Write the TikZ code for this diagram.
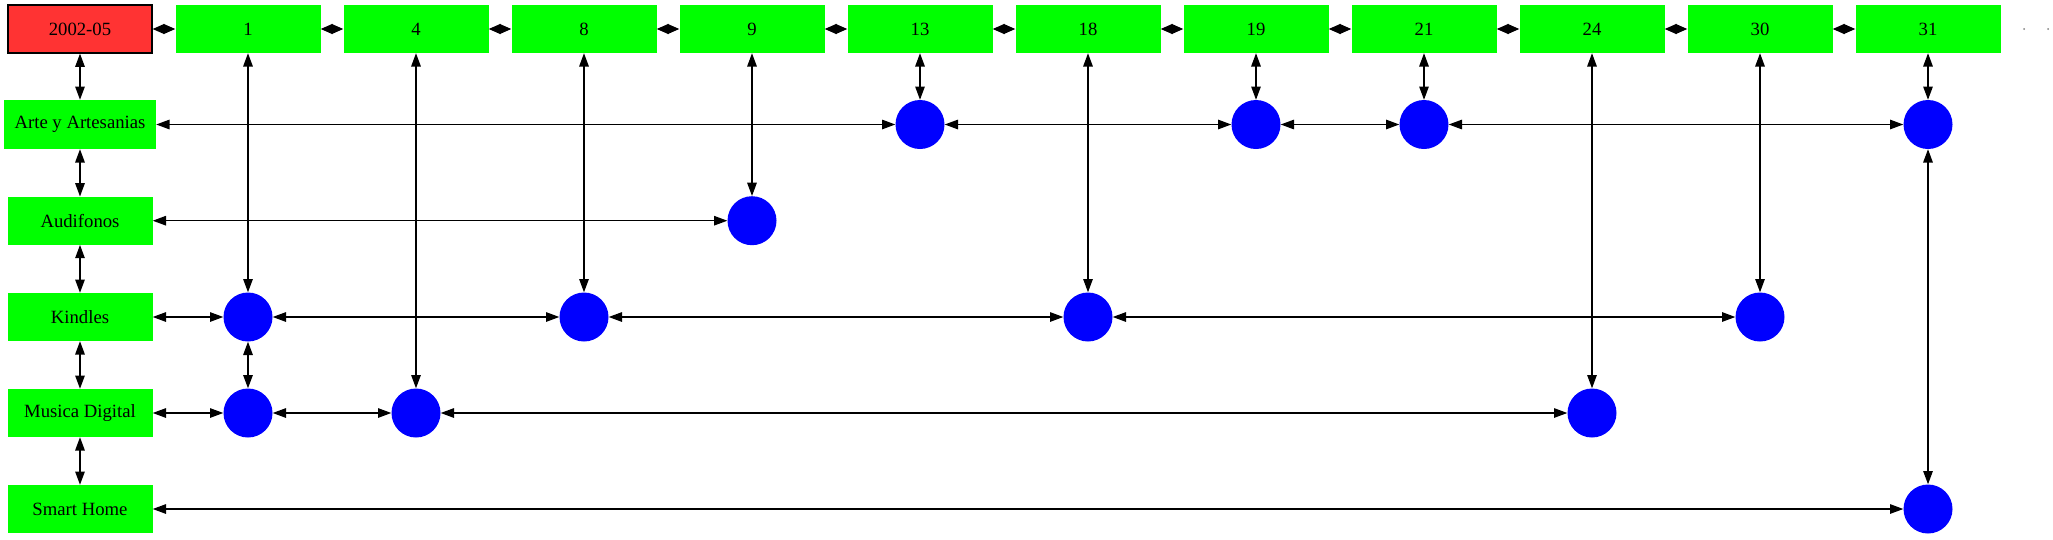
\documentclass[tikz,border=0pt]{standalone}
\usepackage{fontspec}
\setmainfont{Liberation Serif}
\usetikzlibrary{arrows.meta}
\definecolor{boxgreen}{HTML}{00FF00}
\definecolor{hdrred}{HTML}{FF3333}
\begin{document}
\begin{tikzpicture}[x=1pt,y=-1pt,
  box/.style={rectangle, fill=boxgreen, draw=none, minimum width=145pt, minimum height=48pt, inner sep=0pt, font=\fontsize{18.7}{22}\selectfont},
  hdrbox/.style={box, fill=hdrred, draw=black, line width=1.2pt, minimum width=144pt},
  dotnode/.style={circle, fill=blue, draw=none, minimum size=49pt, inner sep=0pt},
  tinydot/.style={circle, fill=gray, draw=none, minimum size=2pt, inner sep=0pt},
  link/.style={line width=1.33pt, {Triangle[length=13.3pt,width=9.5pt]}-{Triangle[length=13.3pt,width=9.5pt]}},
  toplink/.style={line width=1.33pt, {Triangle[length=11.8pt,width=10pt]}-{Triangle[length=11.8pt,width=10pt]}}]
\useasboundingbox (0,0) rectangle (2053,539);
% header row
\node[hdrbox] (hdr) at (80,29) {2002-05};
\foreach \lab [count=\i from 0] in {1,4,8,9,13,18,19,21,24,30,31}
  \node[box] (t\lab) at ({248+168*\i},29) {\lab};
\node[tinydot] (e1) at (2024,29) {};
\node[tinydot] (e2) at (2048,29) {};
% left column
\node[box, minimum width=152pt, minimum height=49pt] (arte) at (80,124.5) {Arte y Artesanias};
\node[box] (aud) at (80,220.7) {Audifonos};
\node[box] (kin) at (80,317) {Kindles};
\node[box] (mus) at (80,413) {Musica Digital};
\node[box] (sh) at (80,509) {Smart Home};
% circles
\node[dotnode] (r13) at (920,124.5) {};
\node[dotnode] (r19) at (1256,124.5) {};
\node[dotnode] (r21) at (1424,124.5) {};
\node[dotnode] (r31) at (1928,124.5) {};
\node[dotnode] (d9) at (752,220.7) {};
\node[dotnode] (k1) at (248,317) {};
\node[dotnode] (k8) at (584,317) {};
\node[dotnode] (k18) at (1088,317) {};
\node[dotnode] (k30) at (1760,317) {};
\node[dotnode] (m1) at (248,413) {};
\node[dotnode] (m4) at (416,413) {};
\node[dotnode] (m24) at (1592,413) {};
\node[dotnode] (s31) at (1928,509) {};
% top row links
\draw[toplink] (hdr) -- (t1);
\draw[toplink] (t1) -- (t4);
\draw[toplink] (t4) -- (t8);
\draw[toplink] (t8) -- (t9);
\draw[toplink] (t9) -- (t13);
\draw[toplink] (t13) -- (t18);
\draw[toplink] (t18) -- (t19);
\draw[toplink] (t19) -- (t21);
\draw[toplink] (t21) -- (t24);
\draw[toplink] (t24) -- (t30);
\draw[toplink] (t30) -- (t31);
% left column links
\draw[link] (hdr) -- (arte);
\draw[link] (arte) -- (aud);
\draw[link] (aud) -- (kin);
\draw[link] (kin) -- (mus);
\draw[link] (mus) -- (sh);
% column links
\draw[link] (t1) -- (k1);
\draw[link] (k1) -- (m1);
\draw[link] (t4) -- (m4);
\draw[link] (t8) -- (k8);
\draw[link] (t9) -- (d9);
\draw[link] (t13) -- (r13);
\draw[link] (t18) -- (k18);
\draw[link] (t19) -- (r19);
\draw[link] (t21) -- (r21);
\draw[link] (t24) -- (m24);
\draw[link] (t30) -- (k30);
\draw[link] (t31) -- (r31);
\draw[link] (r31) -- (s31);
% row links
\draw[link] (arte) -- (r13);
\draw[link] (r13) -- (r19);
\draw[link] (r19) -- (r21);
\draw[link] (r21) -- (r31);
\draw[link] (aud) -- (d9);
\draw[link] (kin) -- (k1);
\draw[link] (k1) -- (k8);
\draw[link] (k8) -- (k18);
\draw[link] (k18) -- (k30);
\draw[link] (mus) -- (m1);
\draw[link] (m1) -- (m4);
\draw[link] (m4) -- (m24);
\draw[link] (sh) -- (s31);
\end{tikzpicture}
\end{document}
